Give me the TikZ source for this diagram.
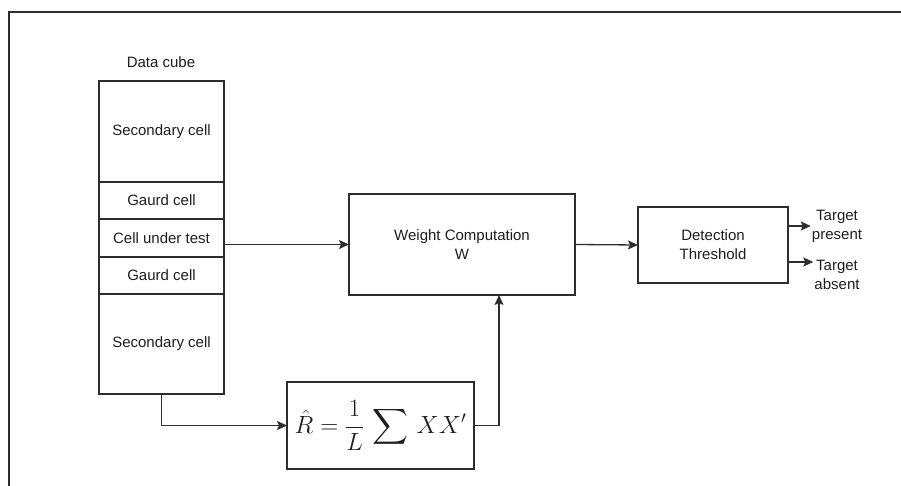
\documentclass[tikz,border=0pt]{standalone}
\usepackage{amsmath}
\usepackage{fontspec}
\setmainfont{Liberation Sans}
\usepackage{tikz}
\usetikzlibrary{arrows.meta,positioning,calc}
\definecolor{linegray}{RGB}{45,45,45}
\definecolor{textgray}{RGB}{30,30,30}

\begin{document}
\begin{tikzpicture}[x=1pt, y=-1pt, >={Stealth[length=10pt,width=9pt,inset=2pt]},
    every node/.style={font=\fontsize{15}{19}\selectfont, text=textgray},
    cell/.style={draw=linegray, line width=1.2pt, minimum width=125pt, inner sep=0pt, outer sep=0pt},
    block/.style={draw=linegray, line width=1.2pt, align=center, inner sep=0pt, outer sep=0pt},
    link/.style={->, draw=linegray, line width=1.3pt}]
    \useasboundingbox (0,0) rectangle (901,486);

    % Frame
    \draw[line width=1.4pt, color=linegray] (901,12) -- (9,12) -- (9,486);

    % Data cube
    \node (cubelabel) at (161,62) {Data cube};
    \node[cell, minimum height=101pt] (sec1) at (161.5,131.5) {Secondary cell};
    \node[cell, minimum height=37pt, below=0pt of sec1] (gaurd1) {Gaurd cell};
    \node[cell, minimum height=38pt, below=0pt of gaurd1] (cut) {Cell under test};
    \node[cell, minimum height=37pt, below=0pt of cut] (gaurd2) {Gaurd cell};
    \node[cell, minimum height=100pt, below=0pt of gaurd2] (sec2) {Secondary cell};

    % Processing blocks
    \node[block, minimum width=226pt, minimum height=101pt] (weight) at (462,244.5) {Weight Computation\\W};
    \node[block, minimum width=150pt, minimum height=76pt] (detect) at (713,245) {Detection\\Threshold};
    \node[block, minimum width=187pt, minimum height=87pt, font=\fontsize{24}{28}\selectfont] (rbox) at (380.5,425.5)
        {$\hat{R} = \dfrac{1}{L}\,\displaystyle\sum\, X X'$};

    % Outputs
    \node[align=center, inner sep=1pt] (present) at (837,226) {Target\\present};
    \node[align=center, inner sep=1pt] (absent) at (837,275) {Target\\absent};
    \coordinate (absentin) at ([yshift=13pt]absent.west);

    % Connectors
    \draw[link] (weight.west -| cut.east) -- (weight.west);
    \draw[link] (weight.east) -- (detect.west);
    \draw[link] (present.west -| detect.east) -- (present.west);
    \draw[link] (absentin -| detect.east) -- (absentin);
    \draw[link] (sec2.south) |- (rbox.west);
    \draw[link] (rbox.east) -| ([xshift=37pt]weight.south);
\end{tikzpicture}
\end{document}
